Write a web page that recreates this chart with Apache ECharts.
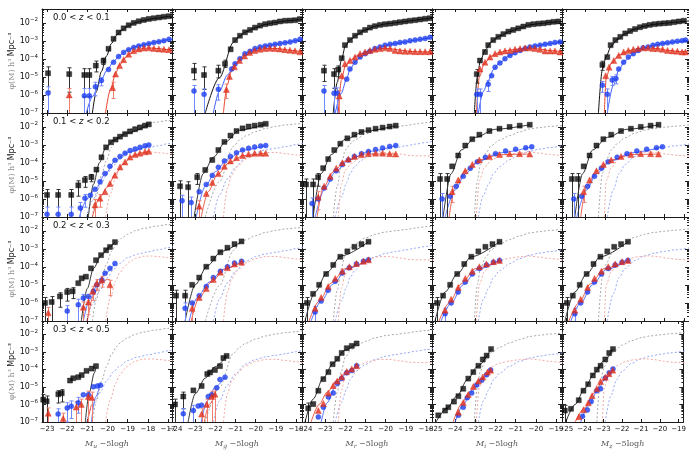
<!DOCTYPE html>
<html>
<head>
<meta charset="utf-8">
<script src="https://cdn.jsdelivr.net/npm/echarts@6/dist/echarts.min.js"></script>
<style>
  html, body { margin: 0; padding: 0; background: #ffffff; }
  #c { width: 689px; height: 450px; }
</style>
</head>
<body>
<div id="c"></div>
<script>
// Luminance functions phi(M) per band (columns) and redshift bin (rows).
// Point rows: [magnitude, log10 phi, err up (dex), err down (dex)].
// Curve rows: [magnitude, log10 phi].

const bands = ['u', 'g', 'r', 'i', 'z'];
const zBins = ['0.0 < {i|z} < 0.1', '0.1 < {i|z} < 0.2', '0.2 < {i|z} < 0.3', '0.3 < {i|z} < 0.5'];
const yTickPowers = [-7, -6, -5, -4, -3, -2];

// ---------- u band ----------
const allU0 = [[-22.95,-4.8,0.35,1.0],[-21.9,-4.85,0.35,1.0],[-21.15,-4.9,0.35,1.2],[-20.9,-4.9,0.35,1.2],[-20.58,-4.38,0.25,0.35],[-20.2,-4.12,0.15,0.2],[-19.95,-3.45],[-19.7,-2.9],[-19.45,-2.55],[-19.2,-2.32],[-18.95,-2.15],[-18.7,-2.02],[-18.45,-1.93],[-18.2,-1.86],[-17.95,-1.8],[-17.7,-1.76],[-17.45,-1.72],[-17.2,-1.68],[-16.95,-1.65]];
const blueU0 = [[-22.95,-5.9,0.35,9],[-21.15,-6.05,0.4,9],[-20.9,-6.05,0.4,9],[-20.6,-5.55,0.25,0.5],[-20.3,-5.2,0.15,0.3],[-19.95,-4.6],[-19.7,-4.2],[-19.45,-3.88],[-19.2,-3.65],[-18.95,-3.5],[-18.7,-3.38],[-18.45,-3.3],[-18.2,-3.23],[-17.95,-3.17],[-17.7,-3.11],[-17.45,-3.06],[-17.2,-3.0],[-16.95,-2.93]];
const redU0 = [[-21.9,-6.0,0.35,9],[-19.75,-5.6,0.3,0.6],[-19.6,-4.85],[-19.4,-4.38],[-19.2,-4.05],[-18.95,-3.75],[-18.7,-3.56],[-18.45,-3.46],[-18.2,-3.41],[-17.95,-3.4],[-17.7,-3.43],[-17.45,-3.46],[-17.2,-3.48],[-16.95,-3.5]];
const allU1 = [[-23.0,-5.78,0.3,9],[-22.45,-5.78,0.3,9],[-21.8,-5.78,0.3,9],[-21.45,-5.25,0.25,0.6],[-21.12,-4.96,0.2,0.4],[-20.8,-4.8,0.15,0.25],[-20.55,-4.38],[-20.3,-3.7],[-20.07,-3.15],[-19.83,-2.87],[-19.6,-2.72],[-19.38,-2.56],[-19.13,-2.42],[-18.88,-2.27],[-18.63,-2.15],[-18.39,-2.05],[-18.14,-1.95],[-17.95,-1.88]];
const blueU1 = [[-23.0,-6.85,0.4,9],[-22.45,-6.85,0.4,9],[-21.8,-6.85,0.4,9],[-21.35,-6.5,0.3,9],[-21.12,-5.96,0.2,0.5],[-20.85,-5.8],[-20.62,-5.47],[-20.37,-5.05],[-20.12,-4.6],[-19.88,-4.2],[-19.63,-3.87],[-19.38,-3.65],[-19.13,-3.47],[-18.88,-3.33],[-18.63,-3.24],[-18.39,-3.15],[-18.14,-3.06],[-17.95,-3.02]];
const redU1 = [[-20.62,-6.33,0.3,9],[-20.37,-5.96,0.2,0.5],[-20.12,-5.6],[-19.88,-5.15],[-19.63,-4.69],[-19.38,-4.24],[-19.13,-3.96],[-18.88,-3.69],[-18.63,-3.55],[-18.39,-3.47],[-18.14,-3.4],[-17.95,-3.37]];
const allU2 = [[-23.1,-6.0,0.3,9],[-22.77,-5.95,0.3,9],[-22.36,-5.64,0.2,0.6],[-22.0,-5.4,0.2,0.5],[-21.73,-5.36,0.2,0.4],[-21.45,-4.91],[-21.28,-4.64],[-21.07,-4.55],[-20.82,-4.09],[-20.57,-3.64],[-20.32,-3.36],[-20.07,-3.09],[-19.88,-2.91],[-19.63,-2.64]];
const blueU2 = [[-22.0,-6.45,0.3,9],[-21.45,-6.1,0.3,9],[-21.2,-5.73,0.2,0.5],[-20.95,-5.64],[-20.7,-5.36],[-20.53,-5.0],[-20.28,-4.73],[-20.12,-4.36],[-19.88,-4.09],[-19.63,-3.82]];
const redU2 = [[-22.94,-6.55,0.3,9],[-21.2,-6.24,0.3,9],[-20.95,-5.95,0.3,0.7],[-20.74,-5.36,0.25,0.5],[-20.54,-4.91,0.2,0.4],[-20.28,-4.73,0.2,0.4],[-19.88,-5.0,0.25,0.6]];
const allU3 = [[-23.19,-5.73,0.3,9],[-23.02,-5.82,0.3,9],[-22.44,-5.42,0.2,0.5],[-22.27,-5.36,0.2,0.5],[-21.86,-4.64],[-21.7,-4.51],[-21.45,-4.45],[-21.28,-4.33],[-21.04,-4.09],[-20.78,-3.96],[-20.57,-3.82]];
const blueU3 = [[-22.45,-6.55,0.3,9],[-22.0,-6.2,0.3,0.8],[-21.8,-6.1,0.3,0.7],[-21.45,-5.9,0.3,0.6],[-21.2,-5.45],[-20.95,-5.45],[-20.7,-5.0],[-20.5,-4.95],[-20.35,-4.91]];
const redU3 = [[-22.94,-6.5,0.3,9],[-22.2,-6.8,0.3,9],[-21.55,-6.15,0.3,9],[-21.3,-6.0,0.3,9],[-20.95,-5.55,0.3,9],[-20.78,-5.6,0.3,9]];
const refAllU = [[-20.75,-7],[-20.55,-5.8],[-20.3,-4.7],[-20.05,-3.85],[-19.8,-3.15],[-19.55,-2.7],[-19.3,-2.42],[-19.0,-2.2],[-18.6,-2.0],[-18.2,-1.88],[-17.6,-1.76],[-17.0,-1.67],[-16.7,-1.64]];
const refBlueU = [[-21.05,-7],[-20.75,-6.1],[-20.4,-5.35],[-20.0,-4.6],[-19.7,-4.15],[-19.4,-3.82],[-19.0,-3.5],[-18.5,-3.3],[-18.0,-3.18],[-17.5,-3.07],[-17.0,-2.95],[-16.7,-2.88]];
const refRedU = [[-20.1,-7],[-19.85,-5.7],[-19.6,-4.8],[-19.4,-4.35],[-19.15,-3.98],[-18.9,-3.72],[-18.6,-3.53],[-18.2,-3.42],[-17.8,-3.41],[-17.4,-3.45],[-17.0,-3.5],[-16.7,-3.52]];
const fitAllU1 = [[-20.95,-7],[-20.7,-5.2],[-20.4,-4.0],[-20.1,-3.2],[-19.7,-2.75],[-19.0,-2.35],[-17.95,-1.88]];
const fitBlueU1 = [[-21.4,-7],[-21.0,-6.0],[-20.6,-5.45],[-20.1,-4.6],[-19.6,-3.87],[-19.0,-3.42],[-17.95,-3.02]];
const fitRedU1 = [[-20.75,-7],[-20.4,-5.95],[-20.0,-5.35],[-19.6,-4.6],[-19.2,-4.05],[-18.8,-3.65],[-18.3,-3.45],[-17.95,-3.37]];
const fitAllU2 = [[-21.3,-7],[-21.0,-5.2],[-20.7,-4.1],[-20.3,-3.35],[-19.9,-2.9],[-19.63,-2.64]];
const fitBlueU2 = [[-21.2,-7],[-20.9,-5.85],[-20.5,-5.0],[-20.1,-4.35],[-19.63,-3.82]];
const fitRedU2 = [[-21.0,-7],[-20.7,-5.6],[-20.4,-4.95],[-20.0,-4.7],[-19.88,-4.7]];
const fitAllU3 = [[-21.1,-7],[-20.9,-5.3],[-20.65,-4.2],[-20.57,-3.9]];
const fitBlueU3 = [[-20.8,-7],[-20.6,-5.6],[-20.35,-4.8]];
const fitRedU3 = [[-21.0,-7],[-20.8,-6.0]];

// ---------- g band ----------
const allG0 = [[-23.06,-4.66,0.4,0.5],[-22.56,-4.9,0.45,0.8],[-21.85,-4.66,0.3,0.4],[-21.52,-4.28,0.2,0.2],[-21.24,-3.48],[-21.02,-2.97],[-20.78,-2.73],[-20.53,-2.54],[-20.28,-2.41],[-20.03,-2.28],[-19.78,-2.17],[-19.53,-2.09],[-19.29,-2.04],[-19.04,-2.0],[-18.79,-1.94],[-18.54,-1.9],[-18.29,-1.89],[-18.04,-1.87],[-17.8,-1.81]];
const blueG0 = [[-23.06,-5.78,0.3,9],[-22.56,-5.97,0.3,9],[-21.85,-5.69,0.25,0.6],[-21.19,-4.57],[-21.02,-4.28],[-20.78,-4.0],[-20.53,-3.72],[-20.28,-3.59],[-20.03,-3.44],[-19.78,-3.35],[-19.53,-3.29],[-19.29,-3.25],[-19.04,-3.2],[-18.79,-3.16],[-18.54,-3.12],[-18.29,-3.07],[-18.04,-3.01],[-17.8,-2.92]];
const redG0 = [[-21.45,-5.7,0.3,0.5],[-21.3,-4.98],[-21.05,-4.45],[-20.8,-4.1],[-20.55,-3.85],[-20.3,-3.65],[-20.05,-3.55],[-19.8,-3.48],[-19.55,-3.44],[-19.3,-3.42],[-19.05,-3.44],[-18.8,-3.46],[-18.55,-3.5],[-18.3,-3.53],[-18.05,-3.56],[-17.8,-3.62]];
const allG1 = [[-23.75,-5.3,0.3,9],[-23.35,-5.35,0.3,9],[-22.9,-4.8,0.2,0.4],[-22.5,-4.4],[-22.15,-3.85],[-21.85,-3.3],[-21.55,-2.85],[-21.25,-2.5],[-20.95,-2.25],[-20.65,-2.1],[-20.35,-2.0],[-20.05,-1.95],[-19.75,-1.9],[-19.5,-1.85]];
const blueG1 = [[-23.65,-6.1,0.3,9],[-23.2,-6.2,0.3,9],[-22.8,-5.6],[-22.45,-5.2],[-22.15,-4.7],[-21.85,-4.25],[-21.55,-3.9],[-21.25,-3.65],[-20.95,-3.45],[-20.65,-3.3],[-20.35,-3.2],[-20.05,-3.13],[-19.75,-3.08],[-19.5,-3.05]];
const redG1 = [[-22.8,-6.4,0.3,9],[-22.45,-5.7],[-22.15,-5.1],[-21.85,-4.6],[-21.55,-4.2],[-21.25,-3.9],[-20.95,-3.72],[-20.65,-3.6],[-20.35,-3.52],[-20.05,-3.48],[-19.75,-3.47],[-19.5,-3.48]];
const allG2 = [[-23.95,-5.6,0.3,9],[-23.5,-5.6,0.3,9],[-23.15,-5.0],[-22.8,-4.6],[-22.45,-4.0],[-22.1,-3.55],[-21.75,-3.2],[-21.4,-2.95],[-21.05,-2.75],[-20.7,-2.6]];
const blueG2 = [[-23.5,-6.3,0.3,9],[-23.15,-6.0],[-22.8,-5.6],[-22.45,-5.1],[-22.1,-4.6],[-21.75,-4.25],[-21.4,-4.0],[-21.05,-3.8],[-20.7,-3.7]];
const redG2 = [[-23.15,-6.3,0.3,9],[-22.8,-5.7],[-22.45,-5.2],[-22.1,-4.7],[-21.75,-4.3],[-21.4,-4.05],[-21.05,-3.85],[-20.7,-3.75]];
const allG3 = [[-24.0,-6.0,0.3,9],[-23.59,-5.55,0.25,0.7],[-23.09,-5.2],[-22.68,-4.95],[-22.4,-4.27],[-22.26,-4.18],[-22.02,-4.04],[-21.77,-3.82],[-21.6,-3.36],[-21.44,-3.24]];
const blueG3 = [[-23.59,-6.53,0.3,9],[-23.09,-6.35,0.3,9],[-22.85,-6.09],[-22.68,-6.04],[-22.35,-5.55],[-22.18,-5.45],[-21.93,-5.05],[-21.77,-4.58],[-21.52,-4.45]];
const redG3 = [[-22.68,-6.55,0.3,9],[-22.43,-6.0,0.3,9],[-22.18,-5.55,0.3,9],[-22.02,-5.42,0.3,9]];
const refAllG = [[-22.5,-7],[-21.8,-5.05],[-21.1,-3.1],[-20.8,-2.75],[-20.5,-2.52],[-20.0,-2.28],[-19.5,-2.1],[-19.0,-1.99],[-18.5,-1.91],[-18.0,-1.86],[-17.6,-1.81]];
const refBlueG = [[-22.1,-7],[-21.8,-5.8],[-21.4,-4.9],[-21.0,-4.25],[-20.5,-3.7],[-20.0,-3.44],[-19.5,-3.29],[-19.0,-3.2],[-18.5,-3.11],[-18.0,-3.0],[-17.6,-2.9]];
const refRedG = [[-21.6,-7],[-21.4,-5.4],[-21.2,-4.7],[-20.9,-4.2],[-20.5,-3.8],[-20.0,-3.55],[-19.5,-3.44],[-19.0,-3.43],[-18.5,-3.5],[-18.0,-3.57],[-17.6,-3.63]];
const fitAllG1 = [[-23.05,-7],[-22.6,-4.6],[-22.1,-3.7],[-21.5,-2.85],[-20.8,-2.2],[-19.5,-1.85]];
const fitBlueG1 = [[-22.95,-7],[-22.5,-5.3],[-22.0,-4.5],[-21.4,-3.8],[-20.6,-3.3],[-19.5,-3.05]];
const fitRedG1 = [[-22.7,-7],[-22.35,-5.6],[-21.9,-4.65],[-21.3,-4.0],[-20.6,-3.6],[-19.5,-3.48]];
const fitAllG2 = [[-23.5,-7],[-23.0,-5.0],[-22.4,-3.95],[-21.7,-3.15],[-20.7,-2.6]];
const fitBlueG2 = [[-23.3,-7],[-22.9,-5.7],[-22.3,-4.85],[-21.6,-4.15],[-20.7,-3.7]];
const fitRedG2 = [[-23.2,-7],[-22.8,-5.7],[-22.2,-4.85],[-21.5,-4.1],[-20.7,-3.75]];
const fitAllG3 = [[-23.35,-7],[-23.0,-5.4],[-22.5,-4.5],[-22.0,-3.85],[-21.44,-3.24]];
const fitBlueG3 = [[-22.7,-7],[-22.4,-5.8],[-22.0,-5.0],[-21.52,-4.45]];
const fitRedG3 = [[-22.55,-7],[-22.3,-6.0],[-22.0,-5.4]];

// ---------- r band ----------
const allR0 = [[-23.06,-4.66,0.3,0.6],[-22.56,-4.85,0.3,0.8],[-22.35,-4.6,0.2,0.4],[-22.18,-3.97],[-22.02,-3.25],[-21.77,-2.97],[-21.52,-2.73],[-21.27,-2.54],[-21.02,-2.41],[-20.78,-2.28],[-20.53,-2.2],[-20.28,-2.13],[-20.03,-2.09],[-19.78,-2.06],[-19.53,-2.02],[-19.29,-1.98],[-19.04,-1.94],[-18.79,-1.9],[-18.54,-1.87],[-18.29,-1.83],[-18.04,-1.79],[-17.8,-1.76]];
const blueR0 = [[-23.06,-5.78,0.3,9],[-22.56,-5.91,0.3,9],[-22.4,-5.91,0.3,9],[-21.93,-5.13],[-21.77,-4.57],[-21.52,-4.19],[-21.27,-3.91],[-21.02,-3.72],[-20.78,-3.59],[-20.53,-3.44],[-20.28,-3.35],[-20.03,-3.25],[-19.78,-3.2],[-19.53,-3.16],[-19.29,-3.1],[-19.04,-3.07],[-18.79,-3.01],[-18.54,-2.97],[-18.29,-2.92],[-18.04,-2.88],[-17.8,-2.82]];
const redR0 = [[-22.3,-6.06,0.3,9],[-22.18,-4.94],[-22.02,-4.28],[-21.77,-4.1],[-21.52,-3.91],[-21.27,-3.72],[-21.02,-3.63],[-20.78,-3.54],[-20.53,-3.48],[-20.28,-3.44],[-20.03,-3.4],[-19.78,-3.44],[-19.53,-3.54],[-19.29,-3.57],[-19.04,-3.59],[-18.79,-3.59],[-18.54,-3.61],[-18.29,-3.61],[-18.04,-3.61],[-17.8,-3.61]];
const allR1 = [[-23.95,-5.2,0.3,9],[-23.6,-5.2,0.3,9],[-23.35,-4.8,0.2,0.5],[-23.1,-4.3],[-22.85,-3.8],[-22.55,-3.3],[-22.25,-2.95],[-21.9,-2.65],[-21.55,-2.45],[-21.2,-2.3],[-20.85,-2.2],[-20.5,-2.12],[-20.15,-2.06],[-19.8,-2.0],[-19.5,-1.95]];
const blueR1 = [[-23.65,-6.25,0.3,9],[-23.35,-6.0],[-23.05,-5.4],[-22.75,-4.9],[-22.45,-4.45],[-22.15,-4.1],[-21.85,-3.85],[-21.55,-3.65],[-21.2,-3.5],[-20.85,-3.38],[-20.5,-3.27],[-20.15,-3.18],[-19.8,-3.1],[-19.5,-3.05]];
const redR1 = [[-23.35,-5.9,0.3,0.7],[-23.05,-5.3],[-22.75,-4.75],[-22.45,-4.3],[-22.15,-4.0],[-21.85,-3.8],[-21.55,-3.65],[-21.2,-3.55],[-20.85,-3.5],[-20.5,-3.47],[-20.15,-3.47],[-19.8,-3.5],[-19.5,-3.52]];
const allR2 = [[-23.9,-6.0,0.3,9],[-23.6,-5.5],[-23.3,-5.0],[-22.95,-4.4],[-22.6,-3.9],[-22.25,-3.45],[-21.9,-3.15],[-21.55,-2.9],[-21.2,-2.75],[-20.85,-2.62]];
const blueR2 = [[-23.5,-6.5,0.3,9],[-23.2,-5.9],[-22.85,-5.3],[-22.5,-4.8],[-22.15,-4.35],[-21.8,-4.05],[-21.45,-3.85],[-21.1,-3.7],[-20.85,-3.62]];
const redR2 = [[-23.5,-6.3],[-23.2,-5.7],[-22.85,-5.1],[-22.5,-4.65],[-22.15,-4.25],[-21.8,-4.0],[-21.45,-3.82],[-21.1,-3.7],[-20.85,-3.62]];
const allR3 = [[-23.84,-6.22,0.3,9],[-23.59,-5.98],[-23.34,-5.22],[-23.09,-4.56],[-22.84,-4.16],[-22.63,-3.71],[-22.4,-3.4],[-22.18,-3.07],[-21.93,-2.8],[-21.68,-2.67],[-21.44,-2.53]];
const blueR3 = [[-23.34,-6.71],[-23.09,-6.16],[-22.84,-5.58],[-22.6,-5.35],[-22.4,-4.8],[-22.18,-4.53],[-21.93,-4.2],[-21.68,-4.07],[-21.44,-3.8]];
const redR3 = [[-23.34,-6.35],[-23.09,-5.95],[-22.84,-5.35],[-22.6,-4.93],[-22.4,-4.67],[-22.18,-4.44],[-21.93,-4.13],[-21.68,-3.98],[-21.44,-3.8]];
const refAllR = [[-22.6,-7],[-22.4,-5.3],[-22.2,-4.1],[-22.0,-3.3],[-21.75,-2.95],[-21.5,-2.72],[-21.0,-2.41],[-20.5,-2.2],[-20.0,-2.08],[-19.5,-2.01],[-19.0,-1.94],[-18.5,-1.86],[-18.0,-1.79],[-17.6,-1.74]];
const refBlueR = [[-22.5,-7],[-22.2,-5.9],[-21.93,-5.1],[-21.77,-4.6],[-21.52,-4.2],[-21.27,-3.92],[-21.0,-3.72],[-20.5,-3.44],[-20.0,-3.26],[-19.5,-3.16],[-19.0,-3.07],[-18.5,-2.97],[-18.0,-2.88],[-17.6,-2.8]];
const refRedR = [[-22.35,-7],[-22.2,-5.2],[-22.0,-4.4],[-21.7,-4.05],[-21.3,-3.75],[-20.8,-3.55],[-20.3,-3.44],[-19.8,-3.44],[-19.3,-3.52],[-18.8,-3.6],[-18.3,-3.62],[-17.6,-3.63]];
const fitAllR1 = [[-23.6,-7],[-23.2,-4.6],[-22.7,-3.55],[-22.0,-2.7],[-21.0,-2.25],[-19.5,-1.95]];
const fitBlueR1 = [[-23.5,-7],[-23.0,-5.4],[-22.5,-4.5],[-21.8,-3.82],[-20.8,-3.37],[-19.5,-3.05]];
const fitRedR1 = [[-23.4,-7],[-23.1,-5.4],[-22.6,-4.5],[-22.0,-3.9],[-21.0,-3.52],[-19.5,-3.52]];
const fitAllR2 = [[-24.0,-7],[-23.5,-5.4],[-22.9,-4.3],[-22.2,-3.4],[-20.85,-2.62]];
const fitBlueR2 = [[-23.7,-7],[-23.2,-5.9],[-22.6,-4.95],[-21.9,-4.1],[-20.85,-3.62]];
const fitRedR2 = [[-23.8,-7],[-23.3,-5.9],[-22.7,-4.9],[-22.0,-4.1],[-20.85,-3.62]];
const fitAllR3 = [[-24.0,-7],[-23.6,-5.7],[-23.1,-4.5],[-22.6,-3.65],[-22.0,-2.9],[-21.44,-2.53]];
const fitBlueR3 = [[-23.2,-7],[-22.9,-5.9],[-22.5,-5.0],[-22.0,-4.3],[-21.44,-3.8]];
const fitRedR3 = [[-23.7,-7],[-23.3,-6.0],[-22.9,-5.3],[-22.4,-4.6],[-21.9,-4.1],[-21.44,-3.8]];

// ---------- i band ----------
const allI0 = [[-22.93,-4.85,0.25,0.5],[-22.77,-4.1],[-22.52,-3.63],[-22.36,-3.25],[-22.11,-2.97],[-21.86,-2.79],[-21.61,-2.64],[-21.36,-2.5],[-21.12,-2.41],[-20.87,-2.32],[-20.62,-2.22],[-20.37,-2.13],[-20.12,-2.09],[-19.87,-2.06],[-19.62,-2.04],[-19.37,-2.0],[-19.12,-1.96],[-18.87,-1.94]];
const blueI0 = [[-22.93,-5.97,0.3,9],[-22.77,-5.97,0.3,9],[-22.36,-5.41,0.2,0.4],[-22.19,-4.94],[-22.02,-4.47],[-21.78,-4.23],[-21.53,-4.0],[-21.28,-3.82],[-21.03,-3.67],[-20.78,-3.54],[-20.53,-3.44],[-20.29,-3.35],[-20.04,-3.29],[-19.79,-3.25],[-19.54,-3.2],[-19.29,-3.16],[-19.05,-3.1],[-18.8,-3.07]];
const redI0 = [[-22.77,-4.57],[-22.52,-4.19],[-22.27,-3.91],[-22.02,-3.72],[-21.78,-3.63],[-21.53,-3.57],[-21.28,-3.54],[-21.03,-3.48],[-20.78,-3.44],[-20.53,-3.4],[-20.29,-3.4],[-20.04,-3.44],[-19.79,-3.48],[-19.54,-3.57],[-19.29,-3.57],[-19.05,-3.57],[-18.8,-3.63]];
const allI1 = [[-24.75,-4.9,0.3,9],[-24.4,-4.9,0.3,9],[-24.15,-4.2],[-23.85,-3.6],[-23.5,-3.05],[-23.15,-2.7],[-22.8,-2.45],[-22.3,-2.25],[-21.8,-2.12],[-21.3,-2.02],[-20.8,-1.95],[-20.3,-1.9]];
const blueI1 = [[-24.65,-6.0,0.3,9],[-24.25,-5.85],[-23.95,-5.3],[-23.6,-4.75],[-23.25,-4.3],[-22.9,-3.95],[-22.5,-3.7],[-22.0,-3.5],[-21.5,-3.35],[-21.0,-3.25],[-20.5,-3.17],[-20.2,-3.12]];
const redI1 = [[-24.15,-5.6,0.3,0.6],[-23.85,-4.95],[-23.5,-4.45],[-23.15,-4.1],[-22.8,-3.85],[-22.3,-3.65],[-21.8,-3.55],[-21.3,-3.5],[-20.8,-3.5],[-20.3,-3.52]];
const allI2 = [[-24.9,-6.0,0.3,9],[-24.6,-5.6],[-24.25,-5.0],[-23.9,-4.4],[-23.55,-3.85],[-23.2,-3.45],[-22.85,-3.15],[-22.5,-2.9],[-22.15,-2.75],[-21.8,-2.62]];
const blueI2 = [[-24.5,-6.6,0.3,9],[-24.2,-6.0],[-23.85,-5.4],[-23.5,-4.85],[-23.15,-4.4],[-22.8,-4.1],[-22.45,-3.9],[-22.1,-3.75],[-21.8,-3.65]];
const redI2 = [[-24.5,-6.4],[-24.2,-5.8],[-23.85,-5.15],[-23.5,-4.65],[-23.15,-4.25],[-22.8,-4.0],[-22.45,-3.85],[-22.1,-3.72],[-21.8,-3.65]];
const allI3 = [[-24.84,-6.62],[-24.5,-6.35],[-24.34,-6.16],[-24.06,-5.84],[-23.84,-5.53],[-23.6,-5.11],[-23.35,-4.53],[-23.1,-4.16],[-22.85,-3.8],[-22.63,-3.44],[-22.44,-3.22],[-22.22,-2.85]];
const blueI3 = [[-23.84,-6.62],[-23.6,-6.16],[-23.4,-5.62],[-23.18,-5.35],[-22.93,-4.89],[-22.68,-4.62],[-22.44,-4.31],[-22.24,-4.04]];
const redI3 = [[-23.84,-6.44],[-23.6,-5.89],[-23.35,-5.44],[-23.1,-4.98],[-22.85,-4.67],[-22.63,-4.44],[-22.4,-4.16],[-22.24,-4.05]];
const refAllI = [[-23.05,-7],[-22.9,-5.0],[-22.75,-4.1],[-22.5,-3.5],[-22.2,-3.05],[-21.8,-2.75],[-21.3,-2.5],[-20.8,-2.3],[-20.3,-2.13],[-19.8,-2.06],[-19.3,-1.99],[-18.6,-1.93]];
const refBlueI = [[-22.85,-7],[-22.6,-5.8],[-22.35,-5.2],[-22.1,-4.6],[-21.8,-4.22],[-21.3,-3.83],[-20.8,-3.55],[-20.3,-3.36],[-19.8,-3.25],[-19.3,-3.16],[-18.6,-3.05]];
const refRedI = [[-22.95,-7],[-22.8,-5.0],[-22.55,-4.25],[-22.2,-3.85],[-21.8,-3.65],[-21.3,-3.53],[-20.8,-3.45],[-20.3,-3.41],[-19.8,-3.47],[-19.3,-3.55],[-18.6,-3.63]];
const fitAllI1 = [[-24.6,-7],[-24.2,-4.6],[-23.7,-3.3],[-23.0,-2.6],[-22.0,-2.15],[-20.3,-1.9]];
const fitBlueI1 = [[-24.5,-7],[-24.0,-5.5],[-23.5,-4.6],[-22.8,-3.9],[-21.8,-3.45],[-20.2,-3.12]];
const fitRedI1 = [[-24.3,-7],[-24.0,-5.3],[-23.5,-4.45],[-22.8,-3.85],[-21.8,-3.55],[-20.3,-3.52]];
const fitAllI2 = [[-25.0,-7],[-24.5,-5.4],[-23.9,-4.4],[-23.2,-3.45],[-21.8,-2.62]];
const fitBlueI2 = [[-24.7,-7],[-24.2,-6.0],[-23.6,-5.0],[-22.9,-4.15],[-21.8,-3.65]];
const fitRedI2 = [[-24.8,-7],[-24.3,-6.0],[-23.7,-4.95],[-23.0,-4.1],[-21.8,-3.65]];
const fitAllI3 = [[-24.95,-7],[-24.4,-6.2],[-23.9,-5.5],[-23.4,-4.6],[-22.9,-3.85],[-22.22,-2.85]];
const fitBlueI3 = [[-24.0,-7],[-23.6,-6.0],[-23.2,-5.3],[-22.7,-4.6],[-22.24,-4.04]];
const fitRedI3 = [[-24.1,-7],[-23.7,-6.0],[-23.3,-5.3],[-22.8,-4.6],[-22.24,-4.05]];

// ---------- z band ----------
const allZ0 = [[-23.15,-4.34,0.2,0.3],[-22.9,-3.91],[-22.73,-3.25],[-22.49,-2.97],[-22.24,-2.79],[-21.99,-2.6],[-21.74,-2.47],[-21.49,-2.36],[-21.24,-2.26],[-21.0,-2.19],[-20.75,-2.13],[-20.5,-2.09],[-20.25,-2.06],[-20.0,-2.04],[-19.76,-2.02],[-19.51,-1.98],[-19.26,-1.94],[-19.01,-1.9]];
const blueZ0 = [[-23.15,-5.46,0.2,0.4],[-22.9,-5.97,0.3,9],[-22.65,-5.18,0.2,0.3],[-22.46,-5.09,0.2,0.3],[-22.32,-4.57],[-22.07,-4.19],[-21.83,-3.91],[-21.58,-3.72],[-21.33,-3.54],[-21.08,-3.4],[-20.83,-3.35],[-20.58,-3.25],[-20.34,-3.2],[-20.09,-3.16],[-19.84,-3.12],[-19.59,-3.07],[-19.34,-3.03],[-19.1,-3.0],[-18.93,-2.97]];
const redZ0 = [[-22.98,-4.94],[-22.81,-4.47],[-22.57,-4.1],[-22.32,-3.82],[-22.07,-3.63],[-21.83,-3.54],[-21.58,-3.48],[-21.33,-3.44],[-21.08,-3.4],[-20.83,-3.4],[-20.58,-3.44],[-20.34,-3.44],[-20.09,-3.48],[-19.84,-3.54],[-19.59,-3.57],[-19.34,-3.59],[-19.1,-3.63],[-18.93,-3.63]];
const allZ1 = [[-24.7,-4.9,0.3,9],[-24.4,-4.9,0.3,9],[-24.1,-4.2],[-23.8,-3.6],[-23.45,-3.05],[-23.1,-2.7],[-22.7,-2.45],[-22.2,-2.25],[-21.7,-2.12],[-21.2,-2.02],[-20.7,-1.95],[-20.3,-1.9]];
const blueZ1 = [[-24.6,-6.0,0.3,9],[-24.2,-5.85],[-23.9,-5.3],[-23.55,-4.75],[-23.2,-4.3],[-22.85,-3.95],[-22.4,-3.7],[-21.9,-3.5],[-21.4,-3.35],[-20.9,-3.25],[-20.4,-3.17],[-20.1,-3.12]];
const redZ1 = [[-24.1,-5.6,0.3,0.6],[-23.8,-4.95],[-23.45,-4.45],[-23.1,-4.1],[-22.7,-3.85],[-22.2,-3.65],[-21.7,-3.55],[-21.2,-3.5],[-20.7,-3.5],[-20.3,-3.52]];
const allZ2 = [[-24.95,-6.0,0.3,9],[-24.65,-5.6],[-24.3,-5.0],[-23.95,-4.4],[-23.6,-3.85],[-23.25,-3.45],[-22.9,-3.15],[-22.55,-2.9],[-22.2,-2.75],[-21.85,-2.62]];
const blueZ2 = [[-24.55,-6.6,0.3,9],[-24.25,-6.0],[-23.9,-5.4],[-23.55,-4.85],[-23.2,-4.4],[-22.85,-4.1],[-22.5,-3.9],[-22.15,-3.75],[-21.85,-3.65]];
const redZ2 = [[-24.55,-6.4],[-24.25,-5.8],[-23.9,-5.15],[-23.55,-4.65],[-23.2,-4.25],[-22.85,-4.0],[-22.5,-3.85],[-22.15,-3.72],[-21.85,-3.65]];
const allZ3 = [[-25.05,-6.35,0.3,9],[-24.72,-6.25],[-24.31,-5.76],[-24.06,-5.22],[-23.81,-4.85],[-23.56,-4.35],[-23.35,-4.02],[-23.15,-3.8],[-22.9,-3.44],[-22.69,-3.07],[-22.49,-2.85]];
const blueZ3 = [[-24.11,-6.67],[-23.85,-6.31],[-23.65,-5.84],[-23.35,-5.22],[-23.15,-5.11],[-22.9,-4.49],[-22.69,-4.2],[-22.49,-3.98]];
const redZ3 = [[-24.3,-6.7],[-24.05,-6.3],[-23.8,-5.9],[-23.6,-5.5],[-23.35,-5.1],[-23.15,-4.7],[-22.9,-4.45],[-22.7,-4.25],[-22.5,-4.05]];
const refAllZ = [[-23.35,-7],[-23.15,-4.6],[-22.95,-3.85],[-22.7,-3.3],[-22.4,-2.95],[-22.0,-2.62],[-21.5,-2.37],[-21.0,-2.2],[-20.5,-2.1],[-20.0,-2.04],[-19.5,-1.98],[-18.6,-1.89]];
const refBlueZ = [[-22.9,-7],[-22.6,-5.5],[-22.3,-4.6],[-22.0,-4.1],[-21.5,-3.66],[-21.0,-3.4],[-20.5,-3.25],[-20.0,-3.15],[-19.5,-3.07],[-18.6,-2.94]];
const refRedZ = [[-23.05,-7],[-22.95,-5.0],[-22.7,-4.25],[-22.3,-3.8],[-21.8,-3.55],[-21.3,-3.44],[-20.8,-3.4],[-20.3,-3.45],[-19.8,-3.54],[-19.3,-3.6],[-18.6,-3.64]];
const fitAllZ1 = [[-24.55,-7],[-24.15,-4.6],[-23.65,-3.3],[-22.9,-2.6],[-21.9,-2.15],[-20.3,-1.9]];
const fitBlueZ1 = [[-24.45,-7],[-23.95,-5.5],[-23.45,-4.6],[-22.7,-3.9],[-21.7,-3.45],[-20.1,-3.12]];
const fitRedZ1 = [[-24.25,-7],[-23.95,-5.3],[-23.45,-4.45],[-22.7,-3.85],[-21.7,-3.55],[-20.3,-3.52]];
const fitAllZ2 = [[-25.05,-7],[-24.55,-5.4],[-23.95,-4.4],[-23.25,-3.45],[-21.85,-2.62]];
const fitBlueZ2 = [[-24.75,-7],[-24.25,-6.0],[-23.65,-5.0],[-22.95,-4.15],[-21.85,-3.65]];
const fitRedZ2 = [[-24.85,-7],[-24.35,-6.0],[-23.75,-4.95],[-23.05,-4.1],[-21.85,-3.65]];
const fitAllZ3 = [[-25.0,-7],[-24.5,-6.0],[-24.0,-5.1],[-23.5,-4.25],[-23.0,-3.55],[-22.49,-2.85]];
const fitBlueZ3 = [[-24.2,-7],[-23.8,-6.1],[-23.3,-5.2],[-22.9,-4.55],[-22.49,-3.98]];
const fitRedZ3 = [[-24.5,-7],[-24.0,-6.2],[-23.5,-5.35],[-23.0,-4.6],[-22.5,-4.05]];

// ---------- tables [row][column] ----------
const points = {
  all:  [[allU0,allG0,allR0,allI0,allZ0],[allU1,allG1,allR1,allI1,allZ1],[allU2,allG2,allR2,allI2,allZ2],[allU3,allG3,allR3,allI3,allZ3]],
  blue: [[blueU0,blueG0,blueR0,blueI0,blueZ0],[blueU1,blueG1,blueR1,blueI1,blueZ1],[blueU2,blueG2,blueR2,blueI2,blueZ2],[blueU3,blueG3,blueR3,blueI3,blueZ3]],
  red:  [[redU0,redG0,redR0,redI0,redZ0],[redU1,redG1,redR1,redI1,redZ1],[redU2,redG2,redR2,redI2,redZ2],[redU3,redG3,redR3,redI3,redZ3]]
};
const fits = {
  all:  [null,[fitAllU1,fitAllG1,fitAllR1,fitAllI1,fitAllZ1],[fitAllU2,fitAllG2,fitAllR2,fitAllI2,fitAllZ2],[fitAllU3,fitAllG3,fitAllR3,fitAllI3,fitAllZ3]],
  blue: [null,[fitBlueU1,fitBlueG1,fitBlueR1,fitBlueI1,fitBlueZ1],[fitBlueU2,fitBlueG2,fitBlueR2,fitBlueI2,fitBlueZ2],[fitBlueU3,fitBlueG3,fitBlueR3,fitBlueI3,fitBlueZ3]],
  red:  [null,[fitRedU1,fitRedG1,fitRedR1,fitRedI1,fitRedZ1],[fitRedU2,fitRedG2,fitRedR2,fitRedI2,fitRedZ2],[fitRedU3,fitRedG3,fitRedR3,fitRedI3,fitRedZ3]]
};
const refs = {
  all:  [refAllU, refAllG, refAllR, refAllI, refAllZ],
  blue: [refBlueU, refBlueG, refBlueR, refBlueI, refBlueZ],
  red:  [refRedU, refRedG, refRedR, refRedI, refRedZ]
};

// ---------- layout & style ----------
const GRID_LEFT = [42, 172, 302, 432, 562];
const GRID_TOP = [9, 113, 217, 321];
const GRID_W = 130, GRID_H = 104;
const X_MIN = [-23.25, -24.15, -24.15, -25.15, -25.2];
const X_SPAN = 6.45;
const Y_MIN = 1e-7, Y_MAX = 0.056;

const STYLE = {
  all:  { symbol: 'rect',     size: 5, color: '#0a0a0a', line: '#111111', bar: '#333333', ref: '#a9a9a9' },
  blue: { symbol: 'circle',   size: 5, color: '#1e3ef0', line: '#3f5eff', bar: '#7189ff', ref: '#98a8f4' },
  red:  { symbol: 'triangle', size: 6, color: '#df301d', line: '#e8442e', bar: '#f07f70', ref: '#f3aaa3' }
};
const POPS = ['all', 'blue', 'red'];
const phi = lg => Math.pow(10, lg);
const FONT = 'DejaVu Sans';

function renderBar(params, api) {
  const cs = params.coordSys;
  const x = api.value(0), v = api.value(1), up = api.value(2), dn = api.value(3);
  const lg = Math.log10(v);
  const pt = api.coord([x, phi(lg + up)]);
  const pb = api.coord([x, phi(lg - dn)]);
  const top = cs.y, bottom = cs.y + cs.height;
  const y1 = Math.max(pt[1], top), y2 = Math.min(pb[1], bottom);
  const style = { stroke: api.visual('color'), lineWidth: 1 };
  const px = Math.round(pt[0]) + 0.5;
  const kids = [{ type: 'line', shape: { x1: px, y1: y1, x2: px, y2: y2 }, style: style }];
  if (pt[1] >= top) kids.push({ type: 'line', shape: { x1: px - 2, y1: pt[1], x2: px + 2, y2: pt[1] }, style: style });
  if (pb[1] <= bottom) kids.push({ type: 'line', shape: { x1: px - 2, y1: pb[1], x2: px + 2, y2: pb[1] }, style: style });
  return { type: 'group', children: kids };
}

function renderTick(params, api) {
  const cs = params.coordSys;
  const p = api.coord([api.value(0), api.value(1)]);
  const len = api.value(2);
  const y = Math.round(p[1]) + 0.5;
  const st = { stroke: '#222', lineWidth: 1 };
  return { type: 'group', children: [
    { type: 'line', shape: { x1: cs.x, y1: y, x2: cs.x + len, y2: y }, style: st },
    { type: 'line', shape: { x1: cs.x + cs.width - len, y1: y, x2: cs.x + cs.width, y2: y }, style: st }
  ]};
}

const tickValues = [];
for (const k of yTickPowers) {
  tickValues.push([k, 1, 4]);
  for (let m = 2; m <= 9; m++) if (m * Math.pow(10, k) < Y_MAX) tickValues.push([k, m, 2]);
}

const grids = [], xAxes = [], yAxes = [], series = [];

for (let r = 0; r < 4; r++) {
  for (let c = 0; c < 5; c++) {
    const gi = r * 5 + c;
    const xmin = X_MIN[c], xmax = X_MIN[c] + X_SPAN;
    grids.push({ left: GRID_LEFT[c], top: GRID_TOP[r], width: GRID_W, height: GRID_H, containLabel: false });

    const axisLine = { show: true, onZero: false, lineStyle: { color: '#1a1a1a', width: 1 } };
    const bottomRow = r === 3;
    xAxes.push({
      gridIndex: gi, type: 'value', position: 'bottom', min: xmin, max: xmax,
      minInterval: 1, maxInterval: 1,
      splitLine: { show: false }, axisLine: axisLine,
      axisTick: { inside: true, length: 3, lineStyle: { color: '#1a1a1a' } },
      axisLabel: {
        show: bottomRow, margin: 4, fontSize: 7, fontFamily: FONT, color: '#111',
        formatter: v => Math.abs(v - Math.round(v)) < 1e-6 ? (Math.round(v) < 0 ? '\u2212' + Math.abs(Math.round(v)) : String(Math.round(v))) : ''
      },
      name: bottomRow ? '{i|M}{s|' + bands[c] + '}{n| \u22125log}{i|h}' : '',
      nameLocation: 'middle', nameGap: 17,
      nameTextStyle: {
        color: '#555', fontFamily: 'DejaVu Serif', fontSize: 8,
        rich: {
          i: { fontFamily: 'DejaVu Serif', fontStyle: 'italic', fontSize: 8, color: '#555' },
          s: { fontFamily: 'DejaVu Serif', fontStyle: 'italic', fontSize: 6, color: '#555', verticalAlign: 'bottom', padding: [4, 0, 0, 0] },
          n: { fontFamily: 'DejaVu Serif', fontSize: 8, color: '#555' }
        }
      }
    });
    xAxes.push({
      gridIndex: gi, type: 'value', position: 'top', min: xmin, max: xmax,
      minInterval: 1, maxInterval: 1,
      splitLine: { show: false }, axisLine: axisLine,
      axisTick: { inside: true, length: 3, lineStyle: { color: '#1a1a1a' } },
      axisLabel: { show: false }
    });

    const firstCol = c === 0;
    yAxes.push({
      gridIndex: gi, type: 'log', logBase: 10, min: Y_MIN, max: Y_MAX, position: 'left',
      splitLine: { show: false }, axisLine: axisLine, axisTick: { show: false },
      axisLabel: {
        show: firstCol, margin: 4, fontSize: 8, fontFamily: FONT, color: '#111', lineHeight: 11,
        formatter: v => {
          const k = Math.log10(v), kr = Math.round(k);
          if (Math.abs(k - kr) > 1e-6) return '';
          return '10{s|' + (kr < 0 ? '\u2212' : '') + Math.abs(kr) + '}';
        },
        rich: { s: { fontSize: 5.5, fontFamily: FONT, color: '#111', verticalAlign: 'top', lineHeight: 11, padding: [0, 0, 5, 0] } }
      },
      name: firstCol ? '{g|\u03c6(M) h\u00b3} {b|Mpc\u207b\u00b3}' : '',
      nameLocation: 'middle', nameRotate: 90, nameGap: 25,
      nameTextStyle: {
        fontSize: 8,
        rich: {
          g: { fontFamily: 'DejaVu Serif', fontSize: 8, color: '#8a8a8a' },
          b: { fontFamily: FONT, fontSize: 8, color: '#222' }
        }
      }
    });
    yAxes.push({
      gridIndex: gi, type: 'log', logBase: 10, min: Y_MIN, max: Y_MAX, position: 'right',
      splitLine: { show: false }, axisLine: axisLine, axisTick: { show: false },
      axisLabel: { show: false }
    });

    const xi = 2 * gi, yi = 2 * gi;
    const xmid = (xmin + xmax) / 2;

    // log tick marks on both vertical edges
    series.push({
      type: 'custom', xAxisIndex: xi, yAxisIndex: yi, silent: true, z: 1,
      renderItem: renderTick, encode: { x: 0, y: 1 },
      data: tickValues.map(t => [xmid, t[1] * Math.pow(10, t[0]), t[2]])
    });

    for (const pop of POPS) {
      const st = STYLE[pop];
      // reference curves: solid in the lowest-z row, dashed elsewhere
      series.push({
        type: 'line', xAxisIndex: xi, yAxisIndex: yi, silent: true, z: r === 0 ? 3 : 2,
        showSymbol: false, symbol: 'none', smooth: 0.3, smoothMonotone: 'x',
        lineStyle: r === 0 ? { color: st.line, width: 1 } : { color: st.ref, width: 1, type: [2, 2] },
        data: refs[pop][c].map(p => [p[0], phi(p[1])])
      });
      if (r > 0) {
        series.push({
          type: 'line', xAxisIndex: xi, yAxisIndex: yi, silent: true, z: 3,
          showSymbol: false, symbol: 'none', smooth: 0.3, smoothMonotone: 'x',
          lineStyle: { color: st.line, width: 1, opacity: 0.85 },
          data: fits[pop][r][c].map(p => [p[0], phi(p[1])])
        });
      }
    }
    for (const pop of POPS) {
      const st = STYLE[pop];
      const pts = points[pop][r][c];
      series.push({
        type: 'custom', xAxisIndex: xi, yAxisIndex: yi, silent: true, z: 4,
        renderItem: renderBar, encode: { x: 0, y: 1 },
        itemStyle: { color: st.bar },
        data: pts.filter(p => p.length > 2).map(p => [p[0], phi(p[1]), p[2], p[3]])
      });
    }
    for (const pop of POPS) {
      const st = STYLE[pop];
      series.push({
        type: 'scatter', xAxisIndex: xi, yAxisIndex: yi, silent: true, z: 5,
        symbol: st.symbol, symbolSize: st.size,
        itemStyle: { color: st.color, borderColor: st.color, borderWidth: 0.5 },
        data: points[pop][r][c].map(p => [p[0], phi(p[1])])
      });
    }
  }
}

const graphics = zBins.map((t, r) => ({
  type: 'text', left: 53, top: GRID_TOP[r] + 4, silent: true,
  style: {
    text: t, fill: '#111', font: '8.5px "DejaVu Sans"',
    rich: { i: { fontStyle: 'italic', fontSize: 8.5, fontFamily: FONT, fill: '#111' } }
  }
}));

const chart = echarts.init(document.getElementById('c'), null, { renderer: 'canvas', width: 689, height: 450 });
chart.setOption({
  animation: false,
  backgroundColor: '#ffffff',
  grid: grids, xAxis: xAxes, yAxis: yAxes,
  series: series,
  graphic: graphics
});
</script>
</body>
</html>
